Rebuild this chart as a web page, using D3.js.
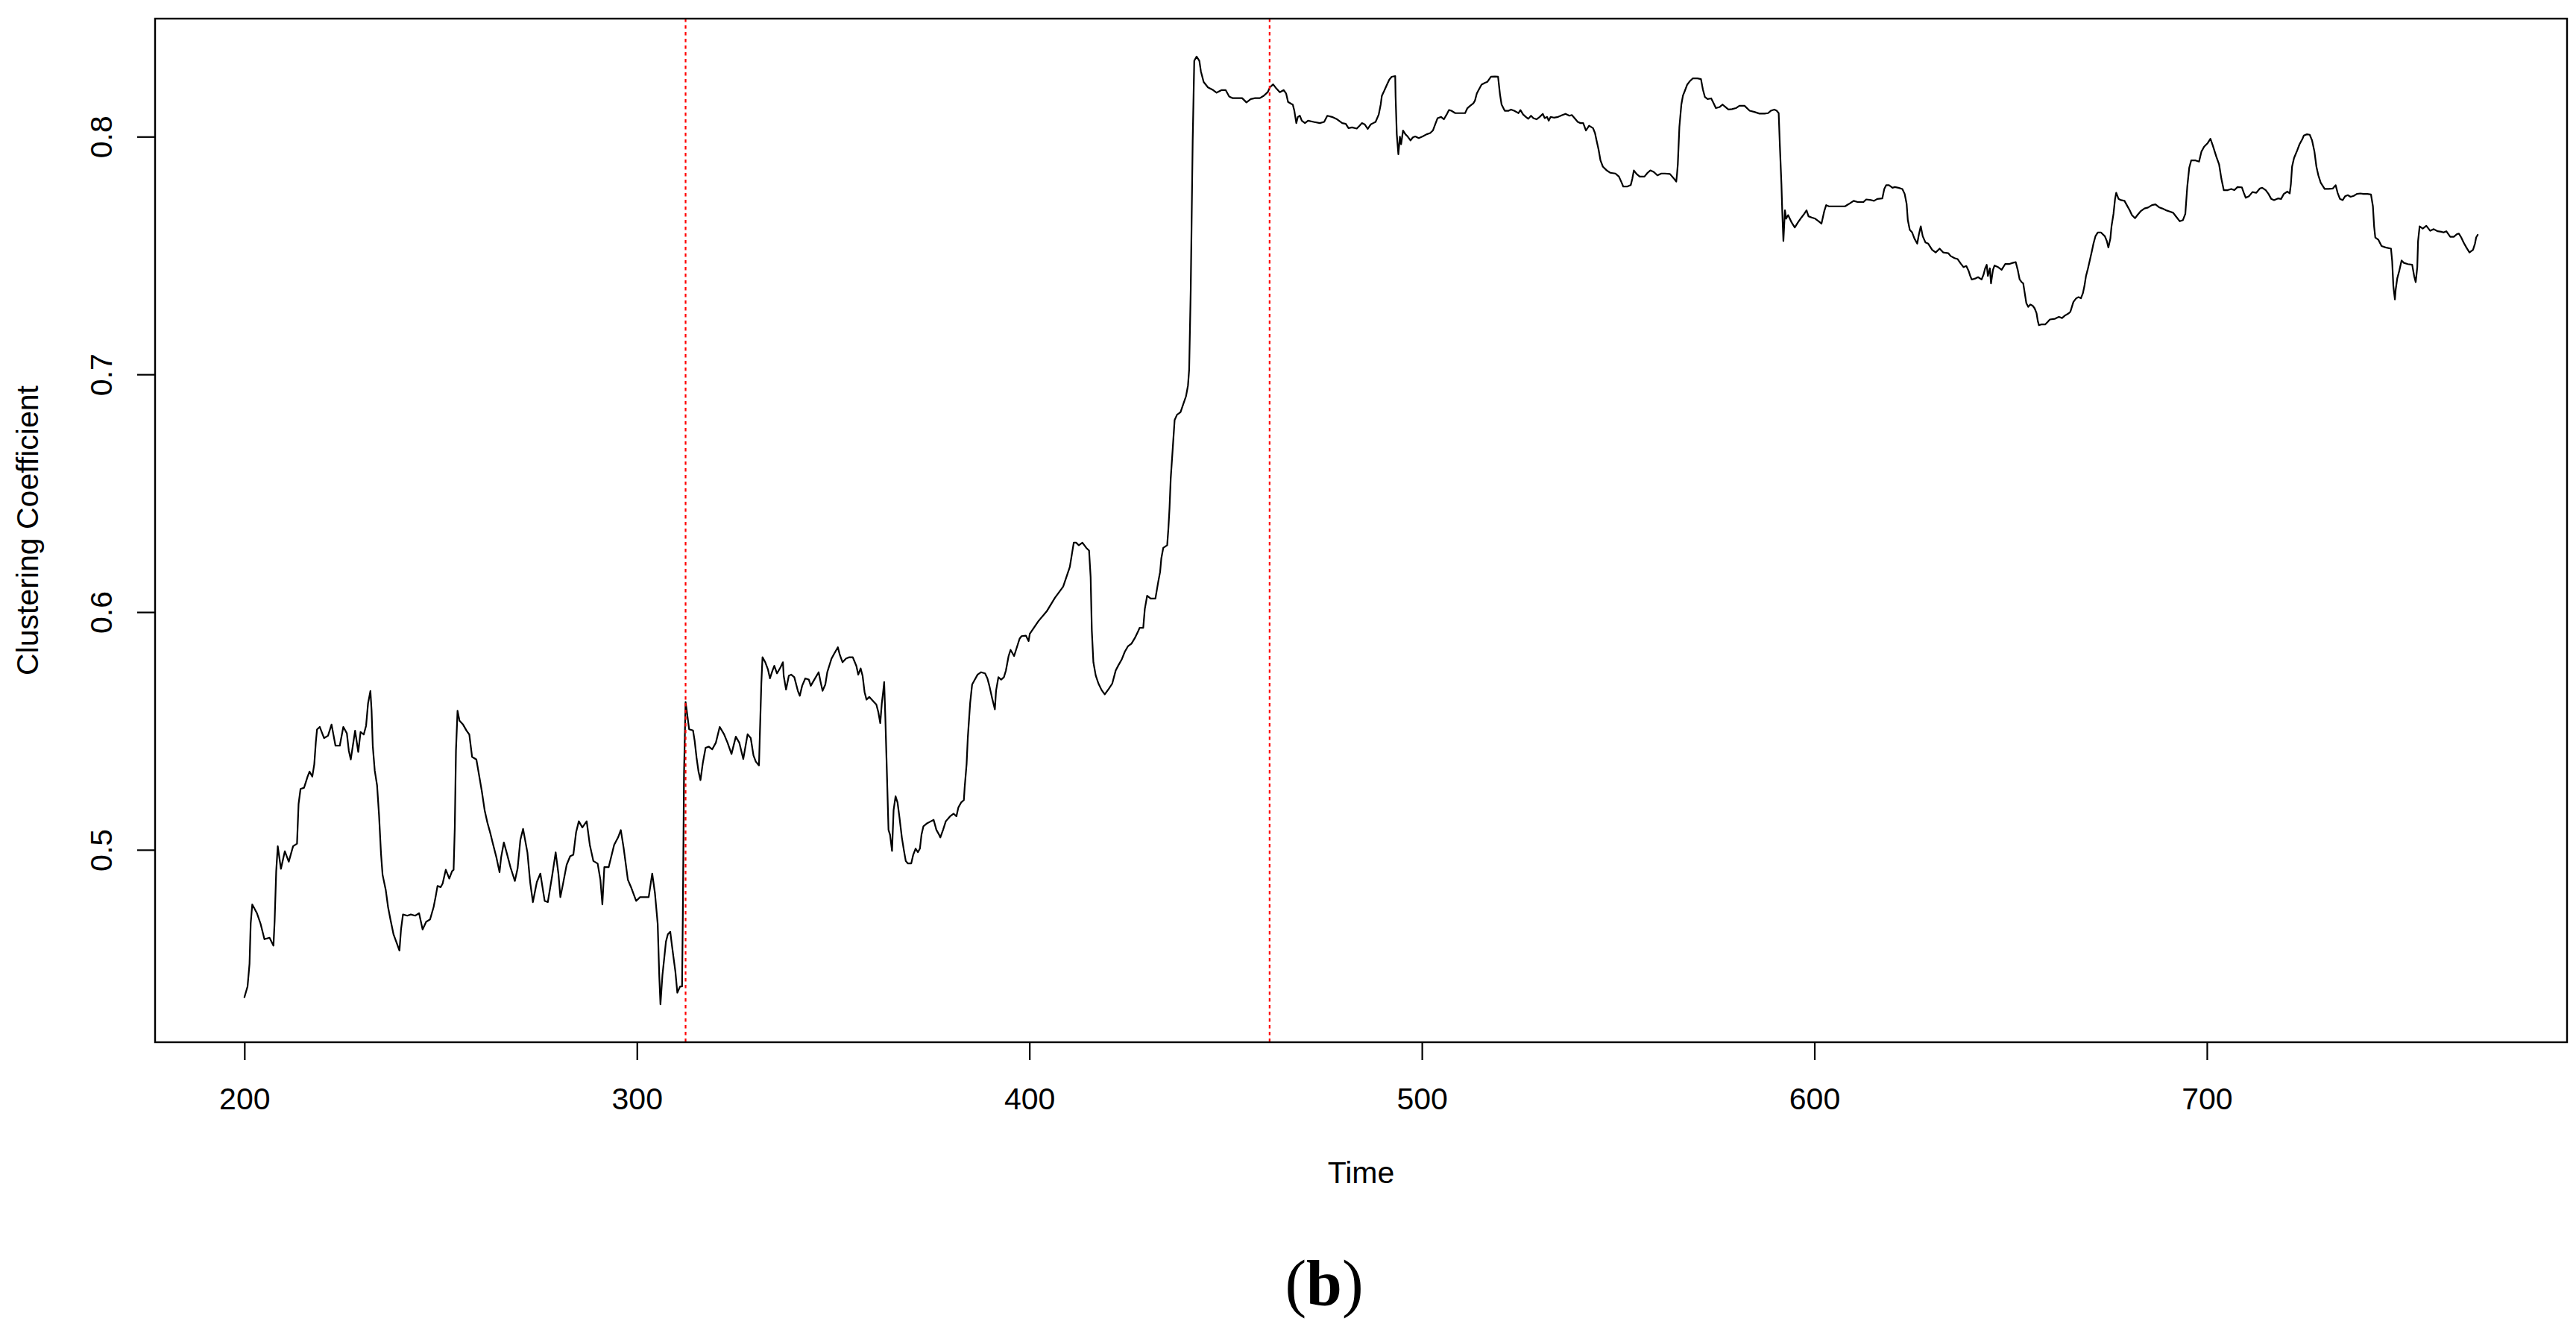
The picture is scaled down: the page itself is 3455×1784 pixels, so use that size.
<!DOCTYPE html>
<html>
<head>
<meta charset="utf-8">
<script src="https://cdn.jsdelivr.net/npm/d3@7"></script>
<style>
  html, body { margin: 0; padding: 0; background: #ffffff; }
  svg { display: block; }
</style>
</head>
<body>
<svg id="chart" width="3455" height="1784"></svg>
<script>
// ---- data ----
const times = [
200.0,200.8,201.3,201.6,202.0,203.2,204.1,205.1,206.4,207.4,207.7,208.1,208.5,209.3,210.3,211.3,212.4,213.4,213.8,214.3,
215.2,216.1,216.6,217.3,217.8,218.2,218.5,219.2,220.3,221.3,222.2,223.2,224.3,225.2,226.1,226.6,227.1,228.2,229.0,229.6,
230.4,231.0,231.5,232.1,232.4,232.7,233.2,233.8,234.3,234.8,235.2,236.0,236.6,237.2,238.0,238.8,239.5,239.9,240.4,241.5,
242.4,243.5,244.5,245.4,246.3,247.3,248.2,248.7,249.2,250.0,250.5,251.3,252.2,252.9,253.3,253.6,253.9,254.3,254.8,255.7,
256.6,257.3,258.0,259.1,259.8,260.5,261.2,261.9,262.6,263.3,264.2,265.0,265.4,266.1,266.8,267.8,268.9,269.6,270.3,271.0,
272.1,272.8,273.5,274.5,275.4,276.5,277.3,278.4,279.3,280.0,280.5,281.2,282.1,283.0,283.8,284.5,285.2,286.1,287.2,288.0,
288.9,290.0,290.7,291.2,291.7,292.8,294.2,295.2,295.9,296.6,297.7,298.5,299.8,300.8,303.0,303.9,304.6,
305.3,305.7,306.0,306.5,307.0,307.4,307.9,308.5,308.8,309.3,309.8,310.3,311.0,311.5,311.7,312.0,312.4,312.7,313.3,314.3,
314.7,315.2,315.7,316.2,316.8,317.5,318.3,319.2,320.1,321.1,322.2,323.1,324.1,325.2,326.1,327.1,328.2,329.0,329.7,330.3,
331.1,331.3,331.7,332.0,332.7,333.4,333.9,334.5,335.0,335.7,336.6,337.2,337.4,338.0,338.7,339.3,340.1,341.0,341.5,342.1,
342.9,343.8,344.3,345.2,346.3,346.8,347.3,348.0,348.5,349.1,349.6,350.3,351.2,351.7,352.4,353.3,354.1,355.0,355.4,355.9,
356.4,357.0,357.5,358.0,358.5,359.2,360.1,361.0,361.5,362.0,362.4,362.7,363.0,363.3,363.8,364.1,364.5,365.0,365.4,365.9,
366.4,366.9,367.5,368.0,368.5,369.0,369.9,370.4,371.0,371.6,372.1,372.5,373.0,373.8,374.9,375.6,376.3,377.0,377.3,378.0,
378.7,379.8,380.7,381.4,381.9,382.6,383.3,383.5,384.0,384.3,384.9,385.4,386.1,386.8,387.7,388.7,389.3,389.8,390.5,391.2,
391.5,392.1,392.8,393.5,394.0,394.7,395.2,396.1,397.0,397.5,398.0,399.1,399.8,400.1,402.3,404.4,406.5,408.6,410.3,
411.3,411.9,412.6,413.5,414.5,415.2,415.6,415.9,416.3,416.9,417.6,418.4,419.2,420.2,421.1,422.0,422.7,423.5,424.3,425.1,
426.0,426.8,427.5,428.1,429.0,429.4,430.0,430.9,432.1,432.8,433.3,433.6,434.1,435.1,435.4,435.7,436.0,436.5,437.0,437.6,
438.5,439.2,439.9,440.4,440.7,441.1,441.6,442.0,442.6,443.3,443.7,444.4,445.5,446.8,447.7,449.0,450.0,450.9,451.8,453.1,
454.2,455.3,456.4,457.5,458.7,
459.7,460.7,461.3,462.1,462.9,463.8,464.8,465.4,465.9,466.7,467.1,467.5,468.0,468.4,468.9,469.4,470.2,471.0,472.4,474.0,
475.1,475.9,477.1,478.4,479.7,480.6,481.3,482.2,483.4,484.1,484.7,485.4,486.2,487.0,487.6,488.2,489.0,489.5,489.8,490.4,
491.1,491.7,492.3,493.2,493.3,493.6,494.0,494.4,494.7,495.2,495.8,496.4,497.1,497.7,498.3,499.2,500.2,501.2,502.1,502.8,
503.4,504.0,504.9,505.6,506.3,506.9,507.5,508.5,509.4,511.0,511.6,512.3,513.1,513.5,514.0,514.5,515.2,516.1,516.7,517.6,
518.6,519.4,519.9,520.3,521.1,522.1,522.7,523.5,524.1,524.6,525.1,525.8,526.5,527.1,527.8,528.4,529.2,530.0,530.8,531.3,
531.9,532.3,532.8,533.6,534.7,535.7,536.6,
537.6,538.2,538.9,539.7,540.4,541.1,541.8,542.6,543.6,544.1,544.5,545.0,545.5,546.1,547.1,548.0,549.3,550.2,550.9,551.3,
552.3,553.2,553.6,554.0,554.7,555.5,556.7,557.5,558.2,559.1,560.0,561.0,561.9,563.2,564.2,564.8,565.0,565.2,565.6,566.1,
566.5,567.0,567.6,568.3,569.0,570.2,571.1,571.6,572.1,572.8,573.7,574.3,574.9,575.9,576.6,577.3,578.1,579.0,580.0,580.9,
582.2,583.5,584.7,586.0,587.3,588.2,588.9,589.8,590.4,590.9,591.2,591.6,591.8,592.1,592.5,592.8,593.3,594.2,595.0,595.8,
596.7,597.4,598.0,598.5,599.3,600.2,601.1,601.8,602.5,603.0,603.7,605.6,607.8,608.8,610.0,611.0,612.5,613.2,
614.5,615.2,616.0,617.3,617.8,618.3,619.0,619.9,620.5,621.4,622.4,623.0,623.5,623.8,624.3,624.9,625.5,626.2,626.6,627.1,
627.6,628.3,629.0,630.0,630.9,631.9,632.8,634.1,634.7,635.7,636.5,637.3,638.0,638.7,639.3,639.7,640.1,641.1,641.7,642.6,
643.1,643.5,643.9,644.2,644.7,645.0,645.5,645.9,646.8,647.7,648.6,649.6,650.5,651.3,651.8,652.3,652.8,653.2,653.6,654.0,
654.5,655.0,655.6,656.1,656.6,656.9,657.2,657.8,658.8,659.4,660.0,661.3,662.3,663.1,663.8,664.8,665.2,665.6,666.0,666.7,
667.3,667.9,668.4,668.8,669.2,669.7,670.2,670.7,671.1,671.6,672.2,673.0,674.0,674.5,674.9,675.4,675.7,676.2,676.6,676.9,
677.5,678.1,679.0,679.7,680.3,680.9,681.7,682.3,683.1,684.1,685.0,686.0,686.9,687.9,688.6,689.5,690.4,691.4,692.0,
693.1,693.9,694.5,695.0,695.5,696.0,697.1,698.0,698.6,699.3,700.2,700.9,701.5,702.4,703.1,703.7,704.3,705.3,706.2,707.0,
707.8,708.9,709.4,709.9,710.7,711.6,712.6,713.5,714.1,715.0,715.7,716.4,717.1,718.1,718.9,719.6,720.5,721.1,721.4,721.7,
722.2,723.0,723.6,724.3,724.7,725.5,726.2,726.8,727.4,727.9,728.4,729.0,730.0,731.0,732.1,732.8,733.3,733.9,734.6,735.2,
735.9,736.6,737.4,738.2,739.1,739.9,740.9,741.8,742.3,742.6,742.9,743.7,744.5,745.5,746.9,747.2,747.5,747.9,748.1,748.5,
749.0,749.6,750.2,751.2,752.3,752.8,753.2,753.6,753.8,754.2,755.0,755.9,756.9,757.8,758.8,759.7,760.3,761.0,762.0,762.9,
763.7,764.2,764.8,765.4,766.1,766.9,767.8,768.3,768.6,769.0
];
const clustering = [
.438,.4425,.452,.469,.477,.4733,.469,.4624,.463,.4597,.470,.491,.5015,.492,.4994,.495,.5015,.5026,.5193,.5256,
.5261,.5308,.5329,.5308,.536,.5454,.5506,.5517,.547,.548,.5527,.5438,.5438,.5517,.549,.5417,.538,.5501,.5412,.5496,
.5485,.5522,.5616,.5668,.5585,.5438,.5334,.5271,.5146,.4984,.4895,.4832,.4759,.4707,.4644,.4608,.4576,.4665,.4728,.4723,
.4728,.4723,.4733,.4665,.4697,.4707,.4759,.4801,.4848,.4843,.4858,.4916,.4879,.491,.4916,.5094,.5418,.5585,.5543,.5527,
.5501,.5485,.5391,.538,.5313,.5245,.5167,.5115,.5073,.5026,.4968,.4906,.4968,.5031,.4989,.4926,.4869,.4921,.5041,.5088,
.4989,.4864,.478,.4864,.49,.4785,.478,.489,.4989,.49,.4801,.4859,.4937,.4973,.4979,.5073,.512,.5094,.512,.5021,
.4953,.4942,.4874,.477,.4927,.4927,.5021,.5052,.5083,.501,.4874,.4843,.4785,.4801,.4801,.49,.4817,
.4687,.4467,.435,.4472,.455,.4614,.4645,.4655,.4614,.455,.4488,.4399,.4425,.4425,.4723,.5319,.5622,.5585,.5507,.5502,
.546,.5387,.5329,.5293,.5366,.5429,.5434,.5423,.545,.5517,.5486,.545,.5403,.5476,.545,.5382,.5486,.547,.5397,.5371,
.5355,.547,.57,.581,.5789,.5758,.5721,.5752,.5774,.5742,.5768,.5789,.5732,.5674,.5732,.5737,.5726,.5669,.5648,.569,
.5721,.5716,.569,.5716,.5747,.5706,.5669,.5695,.5747,.5779,.5805,.5826,.5852,.582,.5789,.5805,.581,.581,.5794,.5774,
.5737,.5763,.5732,.5664,.5632,.5643,.5627,.5611,.558,.5533,.5617,.5659,.5706,.5554,.5261,.5084,.5063,.4995,.5167,.5225,
.5199,.5136,.5052,.5,.4953,.4943,.4943,.4979,.5005,.499,.5005,.5063,.5099,.511,.512,.5126,.5084,.5063,.5052,.5084,
.512,.5141,.5152,.5141,.5178,.5199,.5209,.5261,.5361,.547,.5617,.5695,.5716,.5737,.5747,.5742,.5721,.569,.5638,.5591,
.5669,.5726,.5716,.5726,.5753,.5815,.5841,.5815,.5862,.5888,.5899,.5901,.5878,.5909,.5962,.6003,.606,.6107,.619,
.6292,.6292,.6281,.6292,.627,.6259,.6147,.5923,.5789,.5733,.5699,.5672,.5654,.5677,.5699,.5755,.5777,.58,.5833,.5856,
.5867,.5889,.5912,.5934,.5934,.6013,.6069,.6057,.6057,.6125,.6169,.6225,.627,.6281,.6349,.6438,.6561,.6684,.6808,.683,
.6841,.6875,.6908,.6953,.702,.7356,.7983,.8319,.8337,.8319,.8274,.823,.8207,.8196,.8185,.8196,.8196,.8169,.8162,.8162,
.8162,.8144,.8158,.8162,.8162,
.8172,.8187,.8208,.822,.8203,.8187,.8196,.8182,.8146,.8138,.8135,.8109,.8057,.8083,.8088,.8067,.8057,.8067,.8062,.8057,
.8062,.8088,.8083,.8073,.8057,.8054,.8036,.8039,.8034,.8046,.8057,.8052,.8033,.8052,.8057,.8062,.8093,.8135,.8172,.8193,
.8219,.824,.8252,.8255,.8167,.801,.7926,.8,.7968,.8026,.801,.8,.7984,.7997,.8001,.7994,.8001,.801,.8015,.8026,
.8052,.8078,.8083,.8073,.8093,.8112,.8109,.8099,.8099,.8099,.812,.813,.814,.8151,.8182,.8198,.8219,.8227,.8231,.8252,
.8253,.8252,.8177,.8135,.8109,.8109,.8114,.8109,.8104,.8099,.8112,.8093,.8083,.8075,.8088,.8078,.8073,.8083,.8096,.8078,
.8083,.8067,.8083,.808,.8083,.809,.8096,
.8088,.8091,.8078,.8062,.8057,.8057,.8026,.8046,.8036,.8015,.7984,.7947,.79,.7874,.7858,.7848,.7845,.7832,.7806,.779,
.779,.7796,.7822,.7858,.7843,.7832,.7832,.7848,.7858,.7851,.7837,.7845,.7845,.7843,.7824,.7811,.7843,.7884,.8041,.8135,
.8172,.8193,.8219,.8234,.8245,.8245,.8242,.8198,.8167,.8158,.8161,.8141,.812,.8125,.8135,.8125,.8114,.8116,.812,.813,
.813,.8109,.8104,.8097,.8097,.8099,.8109,.8114,.8109,.8099,.7963,.78,.769,.7561,.769,.7655,.767,.7639,.7618,.7639,
.766,.7675,.769,.7665,.766,.7655,.7644,.7634,.7686,.7712,.7707,.7707,.7707,.7717,.773,.7725,.7725,.7736,
.7733,.773,.7738,.774,.778,.7796,.7796,.7785,.7788,.7785,.778,.7759,.7717,.7649,.7608,.7597,.7571,.755,.7587,.7623,
.7581,.7555,.755,.7524,.7513,.7529,.7513,.751,.7498,.7489,.7485,.7466,.7451,.7456,.7435,.7414,.7399,.7404,.7409,.7399,
.742,.7446,.7461,.7414,.7446,.7383,.744,.7458,.7451,.744,.7464,.7464,.7469,.7472,.744,.7399,.7388,.7383,.7341,.7299,
.7284,.7294,.7289,.7278,.7257,.7226,.7207,.721,.721,.722,.7231,.7234,.7242,.7237,.7247,.7257,.7263,.7284,.7305,.732,
.7325,.732,.7341,.7372,.7414,.7446,.7482,.7519,.755,.7581,.7597,.7597,.7581,.7561,.7534,.7571,.7623,.7675,.7738,.7764,
.7738,.7733,.773,.7709,.7691,.767,.7657,.767,.7686,.7698,.7702,.7712,.7715,.7702,.7698,.7691,.7686,.768,.7667,
.7644,.7649,.7675,.779,.7869,.79,.79,.7895,.7937,.7958,.7973,.7991,.7963,.7916,.7884,.7822,.7775,.7775,.778,.7775,
.7788,.7787,.7764,.7743,.7749,.7767,.7764,.7782,.7785,.7775,.7759,.7738,.7733,.774,.7738,.7759,.7769,.7761,.7801,.7874,
.791,.7942,.7968,.7989,.8005,.801,.8008,.7984,.7937,.7874,.7837,.7806,.778,.778,.7782,.7796,.7764,.7738,.7733,.7749,
.7754,.7747,.7751,.7759,.7761,.7759,.7759,.7757,.7707,.7623,.7576,.7566,.754,.7534,.7529,.7477,.7372,.7315,.7357,.7404,
.7435,.7479,.7469,.7464,.7461,.7414,.7388,.7451,.7561,.7623,.7613,.7625,.7604,.7611,.7602,.76,.7597,.7602,.7579,.7579,
.759,.7592,.7576,.7555,.7534,.7513,.7524,.755,.7576,.7587
];
const changePoints = [312.4, 461.2];
const xTicks = [200, 300, 400, 500, 600, 700];
const yTicks = [0.5, 0.6, 0.7, 0.8];
const xTitle = "Time";
const yTitle = "Clustering Coefficient";
const caption = ["(", "b", ")"];

// ---- layout ----
const W = 3455, H = 1784;
const pL = 208, pR = 3443, pT = 25, pB = 1398;
const sansFont = "'Liberation Sans', Arial, sans-serif";
const serifFont = "'Liberation Serif', 'Times New Roman', serif";

const series = times.map((t, i) => ({ t: t, v: clustering[i] }));

// R-style 4% axis expansion
function expand(ext) { const r = ext[1] - ext[0]; return [ext[0] - 0.04 * r, ext[1] + 0.04 * r]; }
const x = d3.scaleLinear().domain(expand(d3.extent(times))).range([pL, pR]);
const y = d3.scaleLinear().domain(expand(d3.extent(clustering))).range([pB, pT]);

const svg = d3.select("#chart");
svg.append("rect").attr("x", 0).attr("y", 0).attr("width", W).attr("height", H).attr("fill", "#ffffff");

// series line
const line = d3.line().x(d => x(d.t)).y(d => y(d.v));
svg.append("path")
  .datum(series)
  .attr("d", line)
  .attr("fill", "none")
  .attr("stroke", "#000000")
  .attr("stroke-width", 2.2)
  .attr("stroke-linejoin", "round")
  .attr("stroke-linecap", "round");

// change points (red dotted)
svg.selectAll("line.cp")
  .data(changePoints)
  .enter().append("line")
  .attr("class", "cp")
  .attr("x1", d => x(d)).attr("x2", d => x(d))
  .attr("y1", pT).attr("y2", pB)
  .attr("stroke", "#ff0000")
  .attr("stroke-width", 2.2)
  .attr("stroke-dasharray", "4.5,4.5");

// frame
svg.append("rect")
  .attr("x", pL).attr("y", pT)
  .attr("width", pR - pL).attr("height", pB - pT)
  .attr("fill", "none").attr("stroke", "#000000").attr("stroke-width", 2.4);

// x axis
const xAxis = svg.append("g")
  .attr("transform", `translate(0,${pB})`)
  .call(d3.axisBottom(x).tickValues(xTicks).tickSize(24).tickFormat(d3.format("d")));
xAxis.select(".domain").remove();
xAxis.selectAll(".tick line").attr("stroke", "#000").attr("stroke-width", 2.2);
xAxis.selectAll(".tick text")
  .attr("y", 90).attr("dy", null)
  .attr("fill", "#000")
  .style("font-family", sansFont).style("font-size", "41px");

// y axis
const yAxis = svg.append("g")
  .attr("transform", `translate(${pL},0)`)
  .call(d3.axisLeft(y).tickValues(yTicks).tickSize(24).tickFormat(d3.format(".1f")));
yAxis.select(".domain").remove();
yAxis.selectAll(".tick line").attr("stroke", "#000").attr("stroke-width", 2.2);
yAxis.selectAll(".tick text")
  .attr("transform", "rotate(-90)")
  .attr("x", 0).attr("y", -58).attr("dy", null)
  .attr("text-anchor", "middle")
  .attr("fill", "#000")
  .style("font-family", sansFont).style("font-size", "41px");

// axis titles
svg.append("text")
  .attr("x", (pL + pR) / 2).attr("y", 1587)
  .attr("text-anchor", "middle")
  .style("font-family", sansFont).style("font-size", "41px")
  .attr("fill", "#000")
  .text(xTitle);

svg.append("text")
  .attr("transform", `translate(51,${(pT + pB) / 2}) rotate(-90)`)
  .attr("text-anchor", "middle")
  .style("font-family", sansFont).style("font-size", "41px")
  .attr("fill", "#000")
  .text(yTitle);

// caption
const cap = svg.append("text")
  .attr("x", 1776).attr("y", 1750)
  .attr("text-anchor", "middle")
  .style("font-family", serifFont).style("font-size", "86px")
  .attr("fill", "#000");
cap.selectAll("tspan").data(caption).enter().append("tspan")
  .style("font-weight", (d, i) => i === 1 ? "bold" : "normal")
  .text(d => d);
</script>
</body>
</html>
